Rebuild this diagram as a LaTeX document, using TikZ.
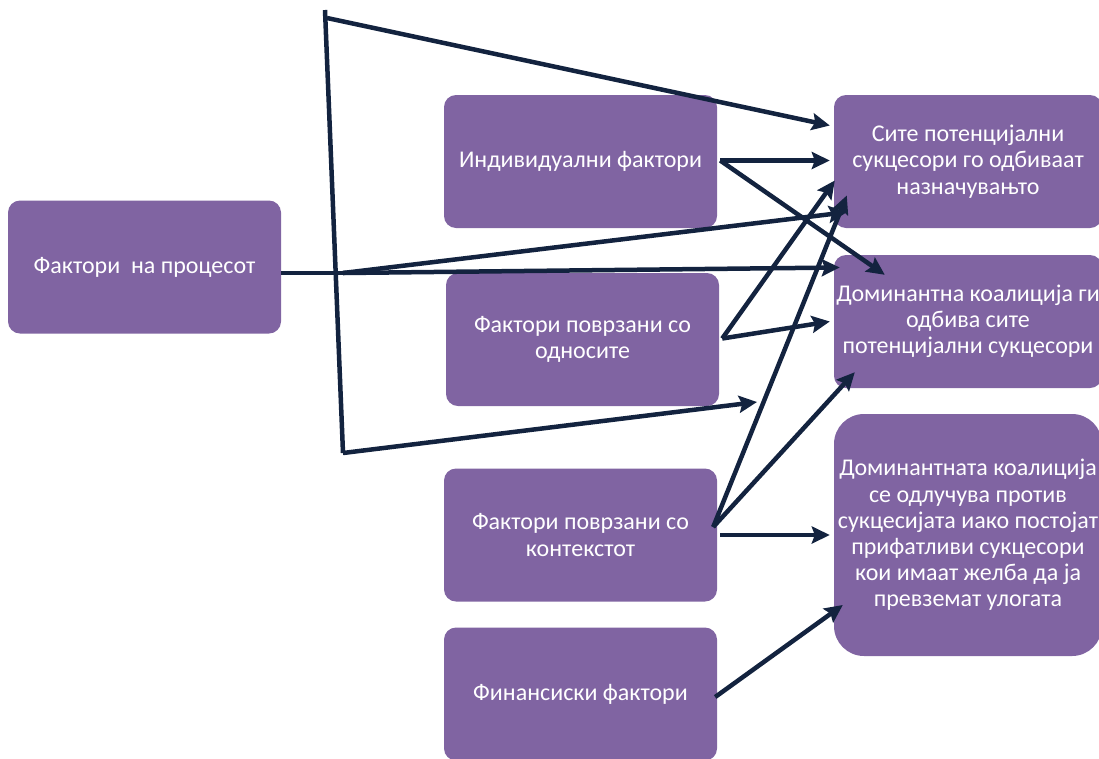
\documentclass[tikz,border=0pt]{standalone}
\usepackage{fontspec}
\setmainfont{Carlito}
\usetikzlibrary{arrows.meta,positioning,calc}
\definecolor{boxpurple}{HTML}{8064A2}
\definecolor{linenavy}{HTML}{13233F}
\tikzset{
  factor/.style={fill=boxpurple, text=white, rounded corners=12pt, minimum width=273pt, minimum height=133pt, inner xsep=0pt, align=center, font=\fontsize{24}{26.2}\selectfont},
  outcome/.style={factor, minimum width=268pt},
  link/.style={draw=linenavy, line width=4.5pt},
  arr/.style={link, -{Stealth[length=18pt,width=17pt,inset=3pt]}}
}

\begin{document}
\begin{tikzpicture}[x=1pt,y=-1pt]
	\useasboundingbox (0,0) rectangle (1099,758);
	\clip (0,0) rectangle (1099,758);
	
	% Factor boxes
	\node[factor] (proc) at (144.5,267) {Фактори \ на процесот};
	\node[factor] (indiv) at (580.5,161.5) {Индивидуални фактори};
	\node[factor] (odnos) at (582.5,339.5) {Фактори поврзани со\\односите};
	\node[factor] (kontekst) at (580.5,535) {Фактори поврзани со\\контекстот};
	\node[factor] (finans) at (580.5,694) {Финансиски фактори};
	
	% Outcome boxes
	\node[outcome] (r1) at (968,161.5) {Сите потенцијални\\сукцесори го одбиваат\\назначувањто};
	\node[outcome] (r2) at (968,321.5) {Доминантна коалиција ги\\одбива сите\\потенцијални сукцесори};
	\node[outcome, minimum height=242pt, rounded corners=30pt] (r3) at (968,535) {Доминантната коалиција\\се одлучува против\\сукцесијата иако постојат\\прифатливи сукцесори\\кои имаат желба да ја\\превземат улогата};
	
	% Bracket
	\coordinate (btop) at (325,10);
	\coordinate (bbot) at (343,453);
	\coordinate (bjoin) at (343,273);
	\draw[link] (btop) -- (bbot);
	\draw[link] (proc.east |- bjoin) -- (bjoin);
	\draw[arr] ($(btop)+(2,8)$) -- ($(r1.west)+(-4,-36)$);
	\draw[arr] (bbot) -- (757,402);
	\draw[arr] (bjoin) -- ($(r1.south west)+(13,-16)$);
	\draw[arr] (bjoin) -- ($(r2.west)+(6,-54)$);
	
	% Individual
	\draw[arr] ($(indiv.east)+(3,-1)$) -- ($(r1.west)+(-4,-1)$);
	\draw[arr] ($(indiv.east)+(3,-1)$) -- ($(r2.north west)+(51,20)$);
	
	% Relations
	\draw[arr] ($(odnos.east)+(3,-1)$) -- ($(r2.west)+(-4,0)$);
	\draw[arr] ($(odnos.east)+(3,-1)$) -- ($(r1.west)+(1,19)$);
	
	% Context
	\draw[arr] ($(kontekst.east)+(-4,-8)$) -- ($(r1.west)+(13,34)$);
	\draw[arr] ($(kontekst.east)+(-4,-8)$) -- ($(r2.south west)+(21,-16)$);
	\draw[arr] ($(kontekst.east)+(3,0)$) -- ($(r3.west)+(-4,0)$);
	
	% Finance
	\draw[arr] ($(finans.east)+(-2,3)$) -- ($(r3.west)+(9,70)$);
\end{tikzpicture}
\end{document}
